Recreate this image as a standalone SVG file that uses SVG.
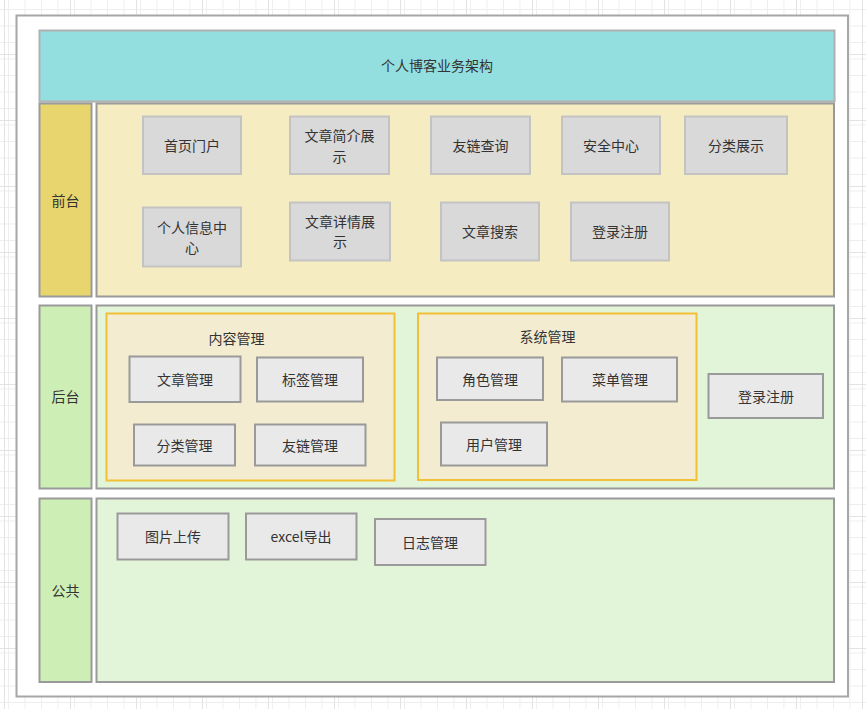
<svg xmlns="http://www.w3.org/2000/svg" width="866" height="709" viewBox="0 0 866 709">
<defs>
<pattern id="minor" patternUnits="userSpaceOnUse" x="4" y="54" width="16.5" height="16.5">
<path d="M0 0.5H16.5M0.5 0V16.5" fill="none" stroke="#eeeeee" stroke-width="1"/>
</pattern>
<pattern id="major" patternUnits="userSpaceOnUse" x="4" y="54" width="66" height="66">
<rect width="66" height="66" fill="url(#minor)"/>
<path d="M0 0.5H66M0.5 0V66" fill="none" stroke="#e3e3e3" stroke-width="1"/>
</pattern>
<style>
text{font-family:"Noto Sans CJK SC","Noto Sans",sans-serif;font-size:14px;fill:#333;text-anchor:middle;dominant-baseline:central}
.f{fill:#d9d9d9;stroke:#c3c3c3;stroke-width:2}
.b{fill:#e9e9e9;stroke:#9a9a9a;stroke-width:2}
.g{fill:#f3ecd0;stroke:#f2c037;stroke-width:2}
.lane{stroke:#9a9a9a;stroke-width:2}
</style>
</defs>
<rect width="866" height="709" fill="#ffffff"/>
<rect width="866" height="709" fill="url(#major)"/>
<g id="frame"><rect x="16.5" y="15.5" width="831.5" height="681" fill="#ffffff" stroke="#a6a6a6" stroke-width="2"/></g>
<g id="title"><rect x="39.5" y="30.5" width="795" height="71" fill="#93dfe0" stroke="#b0b0b0" stroke-width="2"/><text x="437" y="65">个人博客业务架构</text></g>

<g id="front-lane">
<rect class="lane" x="39.5" y="103.5" width="52" height="193" fill="#e8d56e"/>
<text x="65.5" y="199.5">前台</text>
<rect class="lane" x="96.5" y="103.5" width="737.5" height="193" fill="#f5ecc1"/>
</g>
<g id="front-1"><rect class="f" x="143" y="116.5" width="98" height="57.5"/><text x="192" y="144.5">首页门户</text></g>
<g id="front-2"><rect class="f" x="290" y="116.5" width="99" height="57.5"/><text x="339.5" y="135"><tspan x="339.5">文章简介展</tspan><tspan x="339.5" dy="20.5">示</tspan></text></g>
<g id="front-3"><rect class="f" x="431" y="116.5" width="99" height="57.5"/><text x="480.5" y="144.5">友链查询</text></g>
<g id="front-4"><rect class="f" x="562" y="116.5" width="98" height="57.5"/><text x="611" y="144.5">安全中心</text></g>
<g id="front-5"><rect class="f" x="685" y="116.5" width="102" height="57.5"/><text x="736" y="144.5">分类展示</text></g>
<g id="front-6"><rect class="f" x="143" y="207.5" width="98" height="59"/><text x="192" y="226.5"><tspan x="192">个人信息中</tspan><tspan x="192" dy="20.5">心</tspan></text></g>
<g id="front-7"><rect class="f" x="290" y="202.5" width="100" height="58"/><text x="340" y="220.5"><tspan x="340">文章详情展</tspan><tspan x="340" dy="20.5">示</tspan></text></g>
<g id="front-8"><rect class="f" x="441" y="202.5" width="98" height="58"/><text x="490" y="230.5">文章搜索</text></g>
<g id="front-9"><rect class="f" x="571" y="202.5" width="98" height="58"/><text x="620" y="230.5">登录注册</text></g>

<g id="back-lane">
<rect class="lane" x="39.5" y="305.5" width="52" height="183" fill="#cdeeb5"/>
<text x="65.5" y="396">后台</text>
<rect class="lane" x="96.5" y="305.5" width="737.5" height="183" fill="#e3f5d9"/>
</g>
<g id="content-mgmt"><rect class="g" x="106.5" y="313.5" width="288" height="167"/><text x="236.5" y="338">内容管理</text></g>
<g id="back-1"><rect class="b" x="129.5" y="356.5" width="111" height="45.5"/><text x="185" y="378.5">文章管理</text></g>
<g id="back-2"><rect class="b" x="257" y="357.5" width="106" height="44"/><text x="310" y="379">标签管理</text></g>
<g id="back-3"><rect class="b" x="134" y="424.5" width="101" height="41"/><text x="184.5" y="444.5">分类管理</text></g>
<g id="back-4"><rect class="b" x="255" y="424.5" width="110.5" height="41"/><text x="310" y="444.5">友链管理</text></g>
<g id="system-mgmt"><rect class="g" x="418" y="313.5" width="278.5" height="166.5"/><text x="547.5" y="335.5">系统管理</text></g>
<g id="back-5"><rect class="b" x="437" y="357.5" width="106" height="42.5"/><text x="490" y="378.5">角色管理</text></g>
<g id="back-6"><rect class="b" x="562" y="357.5" width="115" height="44"/><text x="620" y="379">菜单管理</text></g>
<g id="back-7"><rect class="b" x="441" y="422.5" width="106" height="43"/><text x="494" y="443.5">用户管理</text></g>
<g id="back-8"><rect class="b" x="708.5" y="374" width="114.5" height="44"/><text x="766" y="395.5">登录注册</text></g>

<g id="public-lane">
<rect class="lane" x="39.5" y="498.5" width="52" height="183.5" fill="#cdeeb5"/>
<text x="65.5" y="589.5">公共</text>
<rect class="lane" x="96.5" y="498.5" width="737.5" height="183.5" fill="#e3f5d9"/>
</g>
<g id="pub-1"><rect class="b" x="117.5" y="513.5" width="111" height="46"/><text x="173" y="535.5">图片上传</text></g>
<g id="pub-2"><rect class="b" x="246" y="513.5" width="110.5" height="46"/><text x="301" y="535.5">excel导出</text></g>
<g id="pub-3"><rect class="b" x="375" y="519" width="110.5" height="46"/><text x="430" y="541.5">日志管理</text></g>
<g id="connectors"/>
</svg>
